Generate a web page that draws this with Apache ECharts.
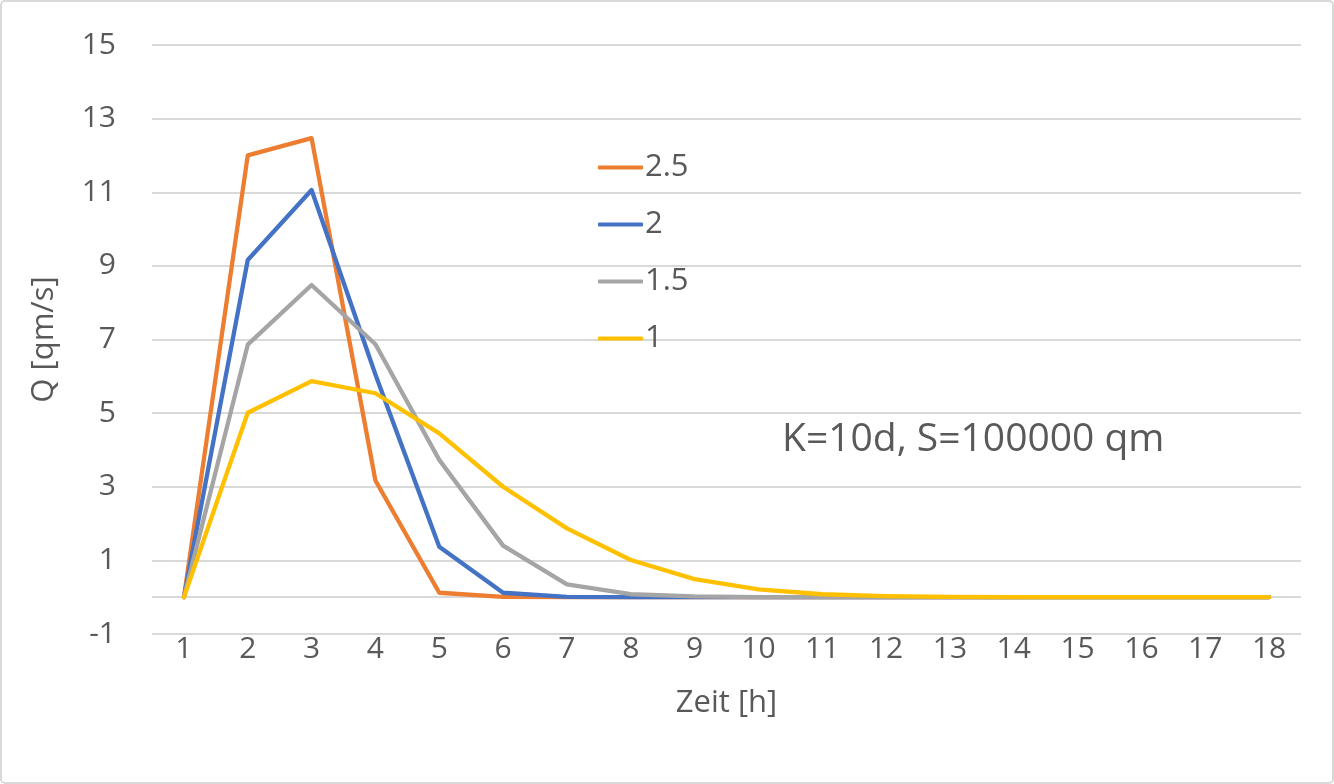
<!DOCTYPE html>
<html>
<head>
<meta charset="utf-8">
<script src="https://cdn.jsdelivr.net/npm/echarts@6/dist/echarts.min.js"></script>
<style>
	html, body { margin: 0; padding: 0; background: #fff; }
	#chart { width: 1334px; height: 784px; }
</style>
</head>
<body>
<div id="chart"></div>
<script>
var hours = ['1', '2', '3', '4', '5', '6', '7', '8', '9', '10', '11', '12', '13', '14', '15', '16', '17', '18'];
var q25 = [0, 12.0, 12.47, 3.17, 0.12, 0.01, 0, 0, 0, 0, 0, 0, 0, 0, 0, 0, 0, 0];
var q20 = [0, 9.16, 11.06, 6.05, 1.37, 0.12, 0.01, 0, 0, 0, 0, 0, 0, 0, 0, 0, 0, 0];
var q15 = [0, 6.86, 8.48, 6.87, 3.73, 1.4, 0.35, 0.08, 0.02, 0, 0, 0, 0, 0, 0, 0, 0, 0];
var q10 = [0, 5.01, 5.87, 5.54, 4.45, 3.0, 1.87, 1.01, 0.49, 0.21, 0.08, 0.03, 0.01, 0, 0, 0, 0, 0];
var yTicks = { min: -1, max: 15, step: 2 };

var font = 'Open Sans';
var textColor = '#595959';

function lineSeries(name, color, data) {
	return {
		name: name,
		type: 'line',
		data: data,
		symbol: 'none',
		smooth: false,
		lineStyle: { color: color, width: 4.3, cap: 'round', join: 'round' },
		itemStyle: { color: color },
		emphasis: { disabled: true }
	};
}

var myChart = echarts.init(document.getElementById('chart'));
var series = [
	lineSeries('2.5', '#ED7D31', q25),
	lineSeries('2', '#4472C4', q20),
	lineSeries('1.5', '#A5A5A5', q15),
	lineSeries('1', '#FFC000', q10)
];
// Excel draws the horizontal axis line at zero
series[0].markLine = {
	silent: true,
	symbol: 'none',
	label: { show: false },
	lineStyle: { color: '#d9d9d9', width: 2, type: 'solid' },
	data: [{ yAxis: 0 }],
	z: 1
};

var option = {
	animation: false,
	textStyle: { fontFamily: font, color: textColor },
	grid: { left: 152, right: 33, top: 45, bottom: 150 },
	legend: {
		orient: 'vertical',
		left: 593,
		top: 147,
		itemGap: 26,
		itemWidth: 45,
		itemHeight: 4,
		icon: 'roundRect',
		textStyle: { fontFamily: font, fontSize: 31, color: textColor, padding: [0, 0, 0, -3] },
		data: ['2.5', '2', '1.5', '1']
	},
	xAxis: {
		type: 'category',
		data: hours,
		boundaryGap: true,
		name: 'Zeit [h]',
		nameLocation: 'middle',
		nameGap: 54,
		nameTextStyle: { fontFamily: font, fontSize: 31, color: textColor },
		axisLine: { show: false, onZero: false },
		axisTick: { show: false },
		axisLabel: { fontFamily: font, fontSize: 30, color: textColor, margin: 0, interval: 0 }
	},
	yAxis: {
		type: 'value',
		min: yTicks.min,
		max: yTicks.max,
		interval: yTicks.step,
		name: 'Q [qm/s]',
		nameLocation: 'middle',
		nameGap: 92,
		nameTextStyle: { fontFamily: font, fontSize: 31, color: textColor },
		axisLine: { show: false },
		axisTick: { show: false },
		axisLabel: { fontFamily: font, fontSize: 30, color: textColor, margin: 36 },
		splitLine: { lineStyle: { color: '#d9d9d9', width: 2 } }
	},
	graphic: [{
		type: 'rect',
		shape: { x: 1, y: 1, width: 1332, height: 782, r: 4 },
		style: { fill: 'none', stroke: '#d9d9d9', lineWidth: 2 },
		silent: true
	}, {
		type: 'text',
		left: 782,
		top: 420,
		style: {
			text: 'K=10d, S=100000 qm',
			fontFamily: font,
			fontSize: 39,
			fill: textColor
		},
		silent: true
	}],
	series: series
};
myChart.setOption(option);
</script>
</body>
</html>
